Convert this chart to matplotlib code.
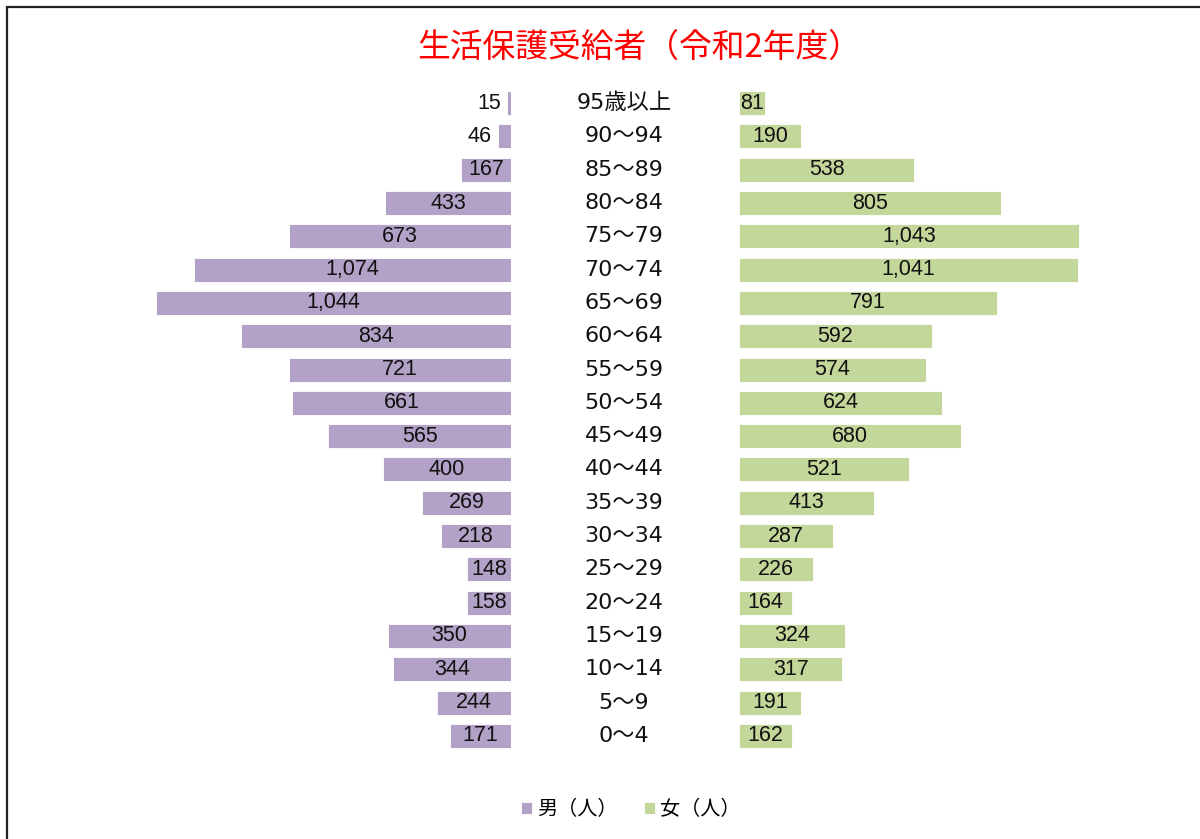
import matplotlib
matplotlib.use("Agg")
import matplotlib.pyplot as plt
import matplotlib.transforms as mtransforms
from matplotlib.patches import Rectangle

plt.rcParams['font.family'] = ['Noto Sans CJK JP', 'DejaVu Sans']

# ---- data (top row = oldest) ----
ages = ["95歳以上", "90～94", "85～89", "80～84", "75～79", "70～74",
        "65～69", "60～64", "55～59", "50～54", "45～49", "40～44",
        "35～39", "30～34", "25～29", "20～24", "15～19", "10～14",
        "5～9", "0～4"]
# printed labels
male_label = [15, 46, 167, 433, 673, 1074, 1044, 834, 721, 661, 565, 400,
              269, 218, 148, 158, 350, 344, 244, 171]
female = [81, 190, 538, 805, 1043, 1041, 791, 592, 574, 624, 680, 521,
          413, 287, 226, 164, 324, 317, 191, 162]
# male bar lengths as drawn in the picture
male_bar = [12, 40, 153, 387, 681, 972, 1089, 828, 681, 672, 561, 393,
            273, 215, 135, 135, 377, 362, 227, 187]

title = "生活保護受給者（令和2年度）"
legend_labels = ["男（人）", "女（人）"]
c_male = "#b3a2c7"
c_female = "#c4d79b"

num_font = ['Liberation Sans', 'Noto Sans CJK JP']
age_font = ['DejaVu Sans', 'Noto Sans CJK JP']

W, H = 1200, 839
fig = plt.figure(figsize=(W / 100, H / 100), dpi=100)
fig.patch.set_facecolor("white")

xmax = 1100
px_per_unit = 0.326
ax_w = xmax * px_per_unit
bottom = 1 - 752.5 / H
height = (752.5 - 86.5) / H

axL = fig.add_axes([(511 - ax_w) / W, bottom, ax_w / W, height])
axR = fig.add_axes([739 / W, bottom, ax_w / W, height])

y = list(range(len(ages)))
barsL = axL.barh(y, male_bar, height=0.72, color=c_male, edgecolor="white", linewidth=0.6)
barsR = axR.barh(y, female, height=0.72, color=c_female, edgecolor="white", linewidth=0.6)

axL.set_xlim(xmax, 0)
axR.set_xlim(0, xmax)
for ax in (axL, axR):
    ax.set_ylim(len(ages) - 0.5, -0.5)
    ax.axis("off")

fs_val = 15.5
textsL = []
for i, (v, lab) in enumerate(zip(male_bar, male_label)):
    t = axL.text(v / 2, i, f"{lab:,}", ha="center", va="center", fontsize=fs_val,
                 color="#111", family=num_font)
    textsL.append((t, v, i))
for i, v in enumerate(female):
    axR.text(v / 2, i, f"{v:,}", ha="center", va="center", fontsize=fs_val,
             color="#111", family=num_font)

# move labels that don't fit to outside of the bar
fig.canvas.draw()
r = fig.canvas.get_renderer()
for t, v, i in textsL:
    tw = t.get_window_extent(r).width
    bw = abs(axL.transData.transform((v, 0))[0] - axL.transData.transform((0, 0))[0])
    if tw > bw:
        t.set_position((v, i))
        t.set_ha("right")
        t.set_transform(axL.transData + mtransforms.ScaledTranslation(-6 / 100, 0, fig.dpi_scale_trans))

# age labels in the centre
tr = mtransforms.blended_transform_factory(fig.transFigure, axL.transData)
for i, a in enumerate(ages):
    fig.text(624 / W, i, a, transform=tr, ha="center", va="center", fontsize=16,
             color="#111", family=age_font)

fig.text(639 / W, 1 - 48 / H, title, ha="center", va="center", fontsize=23.6, color="#ff0000")

fig.legend([barsL, barsR], legend_labels, loc="center", bbox_to_anchor=(631 / W, 1 - 810 / H),
           ncol=2, frameon=False, fontsize=14.5, handlelength=0.55, handleheight=0.55,
           handletextpad=0.25, columnspacing=1.3)

fig.add_artist(Rectangle((7 / W, -0.1), 1.2, 1 - 7 / H + 0.1, transform=fig.transFigure,
                         fill=False, edgecolor="#222", linewidth=1.6))

fig.savefig("out.png", dpi=100)
